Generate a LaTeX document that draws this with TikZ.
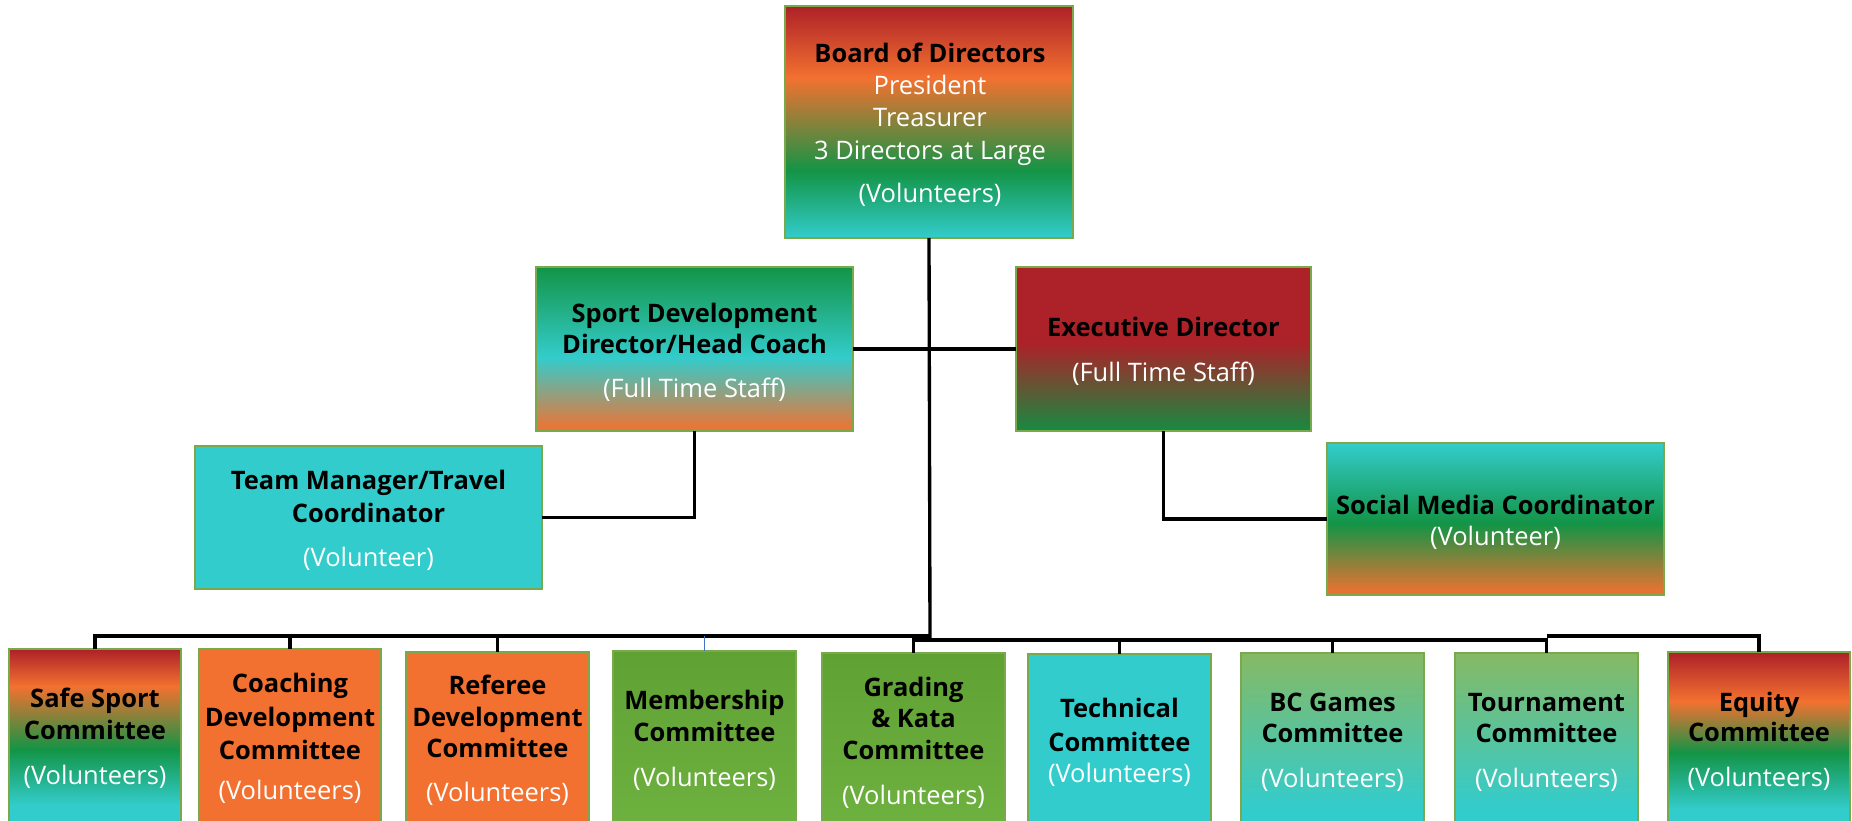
\documentclass[tikz,border=0pt]{standalone}
\usepackage{fontspec}
\setmainfont{Open Sans}
\usetikzlibrary{fit}
\definecolor{cred}{RGB}{173,33,40}
\definecolor{corange}{RGB}{243,113,48}
\definecolor{cgreen}{RGB}{19,148,70}
\definecolor{cdgreen}{RGB}{24,138,66}
\definecolor{cteal}{RGB}{51,204,204}
\definecolor{clgreen}{RGB}{134,185,100}
\definecolor{cmgreen}{RGB}{96,161,52}
\definecolor{cmgreenb}{RGB}{110,178,64}
\definecolor{cborder}{RGB}{120,170,75}
\definecolor{cblue}{RGB}{68,114,196}
\pgfdeclareverticalshading{shBoard}{100bp}{color(0bp)=(cteal); color(25bp)=(cteal); color(39.5bp)=(cgreen); color(59.5bp)=(corange); color(75bp)=(cred); color(100bp)=(cred)}
\pgfdeclareverticalshading{shSport}{100bp}{color(0bp)=(corange); color(25bp)=(corange); color(47.5bp)=(cteal); color(75bp)=(cgreen); color(100bp)=(cgreen)}
\pgfdeclareverticalshading{shExec}{100bp}{color(0bp)=(cdgreen); color(25bp)=(cdgreen); color(52bp)=(cred); color(75bp)=(cred); color(100bp)=(cred)}
\pgfdeclareverticalshading{shSocial}{100bp}{color(0bp)=(corange); color(25bp)=(corange); color(48.5bp)=(cgreen); color(75bp)=(cteal); color(100bp)=(cteal)}
\pgfdeclareverticalshading{shSafe}{100bp}{color(0bp)=(cteal); color(33bp)=(cteal); color(48bp)=(cgreen); color(65bp)=(corange); color(75bp)=(cred); color(100bp)=(cred)}
\pgfdeclareverticalshading{shEquity}{100bp}{color(0bp)=(cteal); color(32bp)=(cteal); color(47.5bp)=(cgreen); color(61.5bp)=(corange); color(75bp)=(cred); color(100bp)=(cred)}
\pgfdeclareverticalshading{shBC}{100bp}{color(0bp)=(cteal); color(32.5bp)=(cteal); color(75bp)=(clgreen); color(100bp)=(clgreen)}
\pgfdeclareverticalshading{shMemb}{100bp}{color(0bp)=(cmgreenb); color(25bp)=(cmgreenb); color(75bp)=(cmgreen); color(100bp)=(cmgreen)}
\begin{document}
\begin{tikzpicture}[x=0.02cm,y=-0.02cm,
  box/.style={draw=cborder, line width=0.6pt, inner sep=0pt, outer sep=0pt, rectangle},
  ttl/.style={anchor=base, inner sep=0pt, font=\fontsize{14.5}{17}\selectfont\bfseries, text=black},
  sub/.style={anchor=base, inner sep=0pt, font=\fontsize{14.5}{17}\selectfont, text=white},
  conn/.style={draw=black, line width=1.9pt}]
\path[use as bounding box] (0,0) rectangle (1852,821);
\clip (0,0) rectangle (1852,821);
% upper boxes
\node[box, shading=shBoard, fit={(785,6) (1073,238)}] (board) {};
\node[box, shading=shSport, fit={(536,267) (853,431)}] (sport) {};
\node[box, shading=shExec, fit={(1016,267) (1311,431)}] (exec) {};
\node[box, fill=cteal, fit={(195,446) (542,589)}] (team) {};
\node[box, shading=shSocial, fit={(1327,443) (1664,595)}] (social) {};
% bottom boxes
\node[box, shading=shSafe, fit={(9,649) (181,835)}] (safe) {};
\node[box, fill=corange, fit={(199,649) (381,835)}] (coach) {};
\node[box, fill=corange, fit={(406,652) (589,835)}] (ref) {};
\node[box, shading=shMemb, fit={(613,651) (796,835)}] (memb) {};
\node[box, shading=shMemb, fit={(822,653) (1005,835)}] (grad) {};
\node[box, fill=cteal, fit={(1028,654) (1211,835)}] (tech) {};
\node[box, shading=shBC, fit={(1241,653) (1424,835)}] (bc) {};
\node[box, shading=shBC, fit={(1455,653) (1638,835)}] (tour) {};
\node[box, shading=shEquity, fit={(1668,652) (1850,835)}] (equity) {};
% connectors
\coordinate (eL) at (930,636);
\coordinate (eR) at (930,640);
\draw[conn] (board.south) -- (eR);
\draw[conn] (sport.east) -- (exec.west);
\draw[conn] (sport.south) |- (team.east);
\draw[conn] (exec.south) |- (social.west);
\draw[conn] (eL) -| (safe.north);
\draw[conn] (eL) -| (coach.north);
\draw[conn] (eL) -| (ref.north);
\draw[conn] (eL) -- (memb.north |- eL);
\draw[draw=cblue, line width=0.6pt] (memb.north |- eL) -- (memb.north);
\draw[conn] (eR) -| (grad.north);
\draw[conn] (eR) -| (tech.north);
\draw[conn] (eR) -| (bc.north);
\draw[conn] (eR) -| (tour.north);
\draw[conn] (tour.north |- eL) -| (equity.north);
% texts
\node[ttl] (t1) at (930,62.5) {Board of Directors};
\node[sub] (t2) at (930,94.5) {President};
\node[sub] (t3) at (930,126.5) {Treasurer};
\node[sub] (t4) at (930,159.5) {3 Directors at Large};
\node[sub] (t5) at (930,202.5) {(Volunteers)};
\node[ttl] (s1) at (694.5,322.5) {Sport Development};
\node[ttl] (s2) at (694.5,353.5) {Director/Head Coach};
\node[sub] (s3) at (694.5,397.5) {(Full Time Staff)};
\node[ttl] (x1) at (1163.5,336.5) {Executive Director};
\node[sub] (x2) at (1163.5,381.5) {(Full Time Staff)};
\node[ttl] (m1) at (368.5,489.5) {Team Manager/Travel};
\node[ttl] (m2) at (368.5,522.5) {Coordinator};
\node[sub] (m3) at (368.5,566.5) {(Volunteer)};
\node[ttl] (c1) at (1495.5,514.5) {Social Media Coordinator};
\node[sub] (c2) at (1495.5,545.5) {(Volunteer)};
% bottom texts
\node[ttl] (b11) at (95,707.5) {Safe Sport};
\node[ttl] (b12) at (95,739.5) {Committee};
\node[sub] (b13) at (95,784.5) {(Volunteers)};
\node[ttl] (b21) at (290,692.5) {Coaching};
\node[ttl] (b22) at (290,726.5) {Development};
\node[ttl] (b23) at (290,759.5) {Committee};
\node[sub] (b24) at (290,799.5) {(Volunteers)};
\node[ttl] (b31) at (497.5,694.5) {Referee};
\node[ttl] (b32) at (497.5,726.5) {Development};
\node[ttl] (b33) at (497.5,757.5) {Committee};
\node[sub] (b34) at (497.5,801.5) {(Volunteers)};
\node[ttl] (b41) at (704.5,709.5) {Membership};
\node[ttl] (b42) at (704.5,741.5) {Committee};
\node[sub] (b43) at (704.5,786.5) {(Volunteers)};
\node[ttl] (b51) at (913.5,696.5) {Grading};
\node[ttl] (b52) at (913.5,727.5) {\& Kata};
\node[ttl] (b53) at (913.5,759.5) {Committee};
\node[sub] (b54) at (913.5,804.5) {(Volunteers)};
\node[ttl] (b61) at (1119.5,717.5) {Technical};
\node[ttl] (b62) at (1119.5,751.5) {Committee};
\node[sub] (b63) at (1119.5,782.5) {(Volunteers)};
\node[ttl] (b71) at (1332.5,711.5) {BC Games};
\node[ttl] (b72) at (1332.5,742.5) {Committee};
\node[sub] (b73) at (1332.5,787.5) {(Volunteers)};
\node[ttl] (b81) at (1546.5,711.5) {Tournament};
\node[ttl] (b82) at (1546.5,742.5) {Committee};
\node[sub] (b83) at (1546.5,787.5) {(Volunteers)};
\node[ttl] (b91) at (1759,711.5) {Equity};
\node[ttl] (b92) at (1759,741.5) {Committee};
\node[sub] (b93) at (1759,786.5) {(Volunteers)};
\end{tikzpicture}
\end{document}
